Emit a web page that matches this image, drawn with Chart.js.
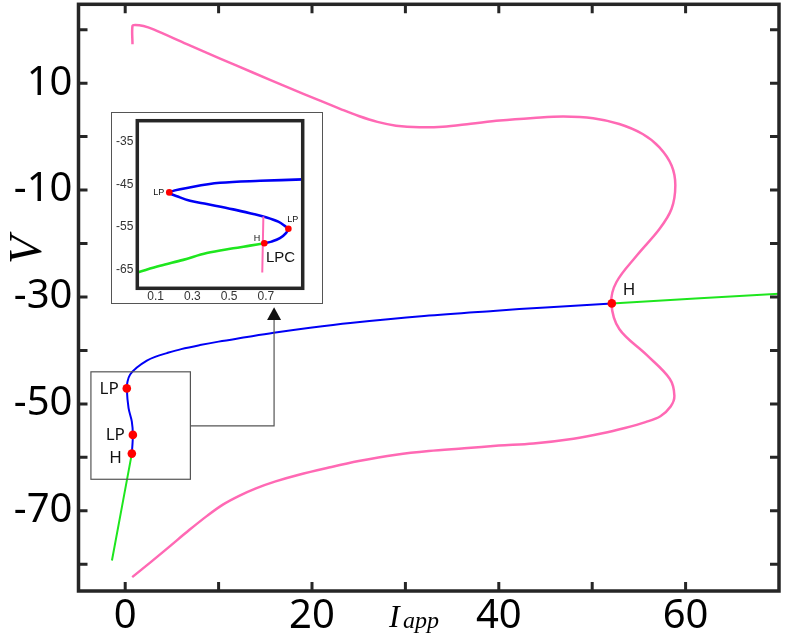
<!DOCTYPE html>
<html>
<head>
<meta charset="utf-8">
<script src="https://cdn.jsdelivr.net/npm/chart.js@4/dist/chart.umd.min.js"></script>
<style>
  html, body { margin: 0; padding: 0; background: #fff; }
  #wrap { position: relative; width: 789px; height: 643px; overflow: hidden; }
  #main { position: absolute; left: 0; top: 0; }
  #insetBox { position: absolute; left: 111px; top: 112px; width: 212px; height: 192px; box-sizing: border-box; border: 1px solid #555; background: #fff; }
  #inset { position: absolute; left: 0; top: 0; }
</style>
</head>
<body>
<div id="wrap">
  <canvas id="main" width="789" height="643"></canvas>
  <div id="insetBox"><canvas id="inset" width="210" height="190"></canvas></div>
</div>
<script>
// main bifurcation diagram (I_app vs V)
const pinkI = [0.78, 0.78, 1.07, 1.96, 3.03, 6.6, 10.16, 13.72, 17.29, 20.86, 23, 25, 27, 29, 31.5, 34, 37, 40.1, 43.7, 46.9, 50.1, 52.9, 55.4, 57.2, 58.5, 58.9, 58.5, 57.2, 54.8, 52.6, 52.05, 52.9, 55.8, 58.3, 58.8, 58.4, 57.3, 55.7, 53.5, 51.1, 48, 43.7, 40, 36.3, 32.5, 29, 25, 21.6, 18.5, 16.1, 14, 12.2, 10.5, 8.8, 6.85, 4.8, 2.8, 0.75];
const pinkV = [17.26, 20.7, 20.9, 20.7, 20.06, 17.3, 14.6, 11.95, 9.3, 6.72, 5.2, 3.85, 2.75, 2.05, 1.75, 1.85, 2.4, 3.0, 3.47, 3.75, 3.45, 2.36, 0.49, -2.0, -5.4, -9.1, -13.5, -17.3, -22.2, -27.2, -31.1, -36, -40.8, -45.3, -48.5, -50.5, -52.3, -53.4, -54.5, -55.5, -56.5, -57.4, -57.8, -58.3, -58.8, -59.5, -60.7, -62, -63.3, -64.5, -65.8, -67.2, -68.8, -70.9, -73.6, -76.6, -79.5, -82.4];

const blueI = [52.1, 45, 39.4, 32, 24.1, 19.8, 15.9, 12.65, 10, 8, 6, 4.46, 3.2, 2.32, 1.25, 0.53, 0.25, 0.17, 0.36, 0.71, 0.82, 0.71];
const blueV = [-31.2, -31.95, -32.6, -33.55, -34.85, -35.75, -36.7, -37.6, -38.35, -39.0, -39.75, -40.5, -41.2, -41.9, -43.2, -44.5, -45.8, -47.1, -50.8, -53.3, -55.8, -59.3];

const greenLowI = [0.71, -1.42];
const greenLowV = [-59.3, -79.3];
const greenHighI = [52.1, 70];
const greenHighV = [-31.2, -29.4];

const specialI = [0.17, 0.82, 0.71, 52.1];
const specialV = [-47.1, -55.8, -59.3, -31.2];
const specialLabels = ['LP', 'LP', 'H', 'H'];

const xTickMarks = [0, 10, 20, 30, 40, 50, 60];
const xTickLabels = [0, 20, 40, 60];
const yTickMarks = [-80, -70, -60, -50, -40, -30, -20, -10, 0, 10, 20];
const yTickLabels = [10, -10, -30, -50, -70];

// inset: zoom near I_app = 0
const insetBlueI = [0.9, 0.668, 0.45, 0.305, 0.174, 0.232, 0.287, 0.378, 0.522, 0.631, 0.704, 0.767, 0.809, 0.822, 0.809, 0.776, 0.731, 0.691];
const insetBlueV = [-43.84, -44.17, -44.64, -45.58, -46.9, -48.07, -48.87, -49.65, -50.9, -52, -52.8, -53.8, -55, -55.45, -56.5, -57.7, -58.5, -58.9];
const insetGreenI = [0.691, 0.613, 0.522, 0.378, 0.25, 0.124, 0.005];
const insetGreenV = [-58.9, -59.45, -60.07, -61.2, -62.8, -64.2, -65.7];
const insetPinkI = [0.686, 0.68];
const insetPinkV = [-52.6, -65.8];
const insetSpecialI = [0.174, 0.822, 0.691];
const insetSpecialV = [-46.9, -55.45, -58.9];
const insetSpecialLabels = ['LP', 'LP', 'H'];
const insetXTicks = [0.1, 0.3, 0.5, 0.7];
const insetYTicks = [-65, -55, -45, -35];

const PINK = '#ff69b4';
const BLUE = '#0000f5';
const GREEN = '#1ee61e';
const FRAME = '#262626';

const pts = (xs, ys) => xs.map((x, i) => ({ x: x, y: ys[i] }));

// zoom rectangle and connector towards the inset (data units)
const zoomBox = { x0: -3.67, x1: 6.98, y0: -44, y1: -64.1 };
const connector = { y: -54.1, x: 15.94, arrowBase: -34.3, arrowTip: -31.9 };

const line = (data, color, width) => ({
  data: data, showLine: true, borderColor: color, borderWidth: width,
  pointRadius: 0, pointHoverRadius: 0, tension: 0.35, fill: false, order: 2
});

// no extra room for half labels at the ends of the axes
const noPad = s => { s.paddingTop = 0; s.paddingBottom = 0; s.paddingLeft = 0; s.paddingRight = 0; };

const mainDecor = {
  id: 'mainDecor',
  afterDatasetsDraw(chart) {
    const { ctx, chartArea: a, scales: { x, y } } = chart;
    ctx.save();

    // zoom box + connector
    ctx.strokeStyle = '#555';
    ctx.lineWidth = 1.2;
    const bx0 = x.getPixelForValue(zoomBox.x0), bx1 = x.getPixelForValue(zoomBox.x1);
    const by0 = y.getPixelForValue(zoomBox.y0), by1 = y.getPixelForValue(zoomBox.y1);
    ctx.strokeRect(bx0, by0, bx1 - bx0, by1 - by0);
    const cx = x.getPixelForValue(connector.x);
    const cy = y.getPixelForValue(connector.y);
    const ab = y.getPixelForValue(connector.arrowBase);
    const at = y.getPixelForValue(connector.arrowTip);
    ctx.beginPath();
    ctx.moveTo(bx1, cy);
    ctx.lineTo(cx, cy);
    ctx.lineTo(cx, ab);
    ctx.stroke();
    ctx.fillStyle = '#111';
    ctx.beginPath();
    ctx.moveTo(cx, at);
    ctx.lineTo(cx - 7, ab);
    ctx.lineTo(cx + 7, ab);
    ctx.closePath();
    ctx.fill();

    // point labels
    ctx.fillStyle = '#111';
    ctx.font = '17px "Noto Sans"';
    ctx.textBaseline = 'middle';
    const offs = [[-8, 1, 'right'], [-8, 0, 'right'], [-10, 5, 'right'], [11, -13, 'left']];
    specialLabels.forEach((t, i) => {
      const px = x.getPixelForValue(specialI[i]), py = y.getPixelForValue(specialV[i]);
      ctx.textAlign = offs[i][2];
      ctx.fillText(t, px + offs[i][0], py + offs[i][1]);
    });

    // frame and inward ticks on four sides
    ctx.strokeStyle = FRAME;
    ctx.lineWidth = 3.5;
    ctx.strokeRect(a.left, a.top, a.right - a.left, a.bottom - a.top);
    ctx.lineWidth = 3;
    ctx.beginPath();
    xTickMarks.forEach(v => {
      const px = x.getPixelForValue(v);
      ctx.moveTo(px, a.bottom); ctx.lineTo(px, a.bottom - 9);
      ctx.moveTo(px, a.top); ctx.lineTo(px, a.top + 9);
    });
    yTickMarks.forEach(v => {
      const py = y.getPixelForValue(v);
      ctx.moveTo(a.left, py); ctx.lineTo(a.left + 9, py);
      ctx.moveTo(a.right, py); ctx.lineTo(a.right - 9, py);
    });
    ctx.stroke();

    // axis titles
    ctx.fillStyle = '#000';
    ctx.save();
    ctx.translate(29, 250);
    ctx.rotate(-Math.PI / 2);
    ctx.textAlign = 'center';
    ctx.textBaseline = 'middle';
    ctx.font = 'italic 46px "Liberation Serif"';
    ctx.fillText('V', 0, 0);
    ctx.restore();
    ctx.textAlign = 'left';
    ctx.textBaseline = 'alphabetic';
    ctx.font = 'italic 32px "Liberation Serif"';
    ctx.fillText('I', 389, 627);
    ctx.font = 'italic 24px "Liberation Serif"';
    ctx.fillText('app', 403, 628);
    ctx.restore();
  }
};

new Chart(document.getElementById('main'), {
  type: 'scatter',
  data: {
    datasets: [
      line(pts(pinkI, pinkV), PINK, 2.5),
      line(pts(blueI, blueV), BLUE, 2),
      line(pts(greenLowI, greenLowV), GREEN, 2),
      line(pts(greenHighI, greenHighV), GREEN, 2),
      { data: pts(specialI, specialV), pointRadius: 4.3, pointHoverRadius: 4.3, backgroundColor: '#ff0000', borderWidth: 0, order: 0 }
    ]
  },
  options: {
    responsive: false,
    animation: false,
    events: [],
    layout: { padding: { top: 1.5, right: 10, left: 0, bottom: 0 } },
    plugins: { legend: { display: false }, tooltip: { enabled: false } },
    scales: {
      x: {
        type: 'linear', min: -5, max: 70,
        grid: { display: false, drawTicks: false },
        border: { display: false },
        afterBuildTicks: s => { s.ticks = xTickMarks.map(v => ({ value: v })); },
        afterFit: s => { s.height = 52; noPad(s); },
        ticks: {
          color: '#000', padding: 6,
          font: { family: '"Noto Sans"', size: 40, lineHeight: 1 },
          callback: v => xTickLabels.includes(v) ? String(v) : ''
        }
      },
      y: {
        type: 'linear', min: -85, max: 24.75,
        grid: { display: false, drawTicks: false },
        border: { display: false },
        afterBuildTicks: s => { s.ticks = yTickMarks.map(v => ({ value: v })); },
        afterFit: s => { s.width = 78.5; noPad(s); },
        ticks: {
          color: '#000', padding: 6,
          font: { family: '"Noto Sans"', size: 40, lineHeight: 1 },
          callback: v => yTickLabels.includes(v) ? String(v) : ''
        }
      }
    }
  },
  plugins: [mainDecor]
});

const insetDecor = {
  id: 'insetDecor',
  afterDatasetsDraw(chart) {
    const { ctx, chartArea: a, scales: { x, y } } = chart;
    ctx.save();
    ctx.fillStyle = '#111';
    ctx.font = '9px "Liberation Sans"';
    ctx.textBaseline = 'middle';
    const offs = [[-5, 0, 'right'], [-1, -9, 'left'], [-4, -5, 'right']];
    insetSpecialLabels.forEach((t, i) => {
      const px = x.getPixelForValue(insetSpecialI[i]), py = y.getPixelForValue(insetSpecialV[i]);
      ctx.textAlign = offs[i][2];
      ctx.fillText(t, px + offs[i][0], py + offs[i][1]);
    });
    ctx.font = '15px "Liberation Sans"';
    ctx.textAlign = 'left';
    ctx.fillText('LPC', x.getPixelForValue(0.7), y.getPixelForValue(-62.4));
    ctx.strokeStyle = FRAME;
    ctx.lineWidth = 3.5;
    ctx.strokeRect(a.left, a.top, a.right - a.left, a.bottom - a.top);
    ctx.restore();
  }
};

new Chart(document.getElementById('inset'), {
  type: 'scatter',
  data: {
    datasets: [
      line(pts(insetPinkI, insetPinkV), PINK, 2),
      line(pts(insetBlueI, insetBlueV), BLUE, 2.6),
      line(pts(insetGreenI, insetGreenV), GREEN, 2.6),
      { data: pts(insetSpecialI, insetSpecialV), pointRadius: 3.3, pointHoverRadius: 3.3, backgroundColor: '#ff0000', borderWidth: 0, order: 0 }
    ]
  },
  options: {
    responsive: false,
    animation: false,
    events: [],
    layout: { padding: { top: 7.7, right: 19.3, left: 0, bottom: 0 } },
    plugins: { legend: { display: false }, tooltip: { enabled: false } },
    scales: {
      x: {
        type: 'linear', min: 0, max: 0.9,
        grid: { display: false, drawTicks: false },
        border: { display: false },
        afterBuildTicks: s => { s.ticks = insetXTicks.map(v => ({ value: v })); },
        afterFit: s => { s.height = 14.7; noPad(s); },
        ticks: { color: '#333', padding: 2, font: { family: '"Liberation Sans"', size: 12, lineHeight: 1 } }
      },
      y: {
        type: 'linear', min: -69.5, max: -30,
        grid: { display: false, drawTicks: false },
        border: { display: false },
        afterBuildTicks: s => { s.ticks = insetYTicks.map(v => ({ value: v })); },
        afterFit: s => { s.width = 25.3; noPad(s); },
        ticks: { color: '#333', padding: 4, font: { family: '"Liberation Sans"', size: 12, lineHeight: 1 } }
      }
    }
  },
  plugins: [insetDecor]
});
</script>
</body>
</html>
